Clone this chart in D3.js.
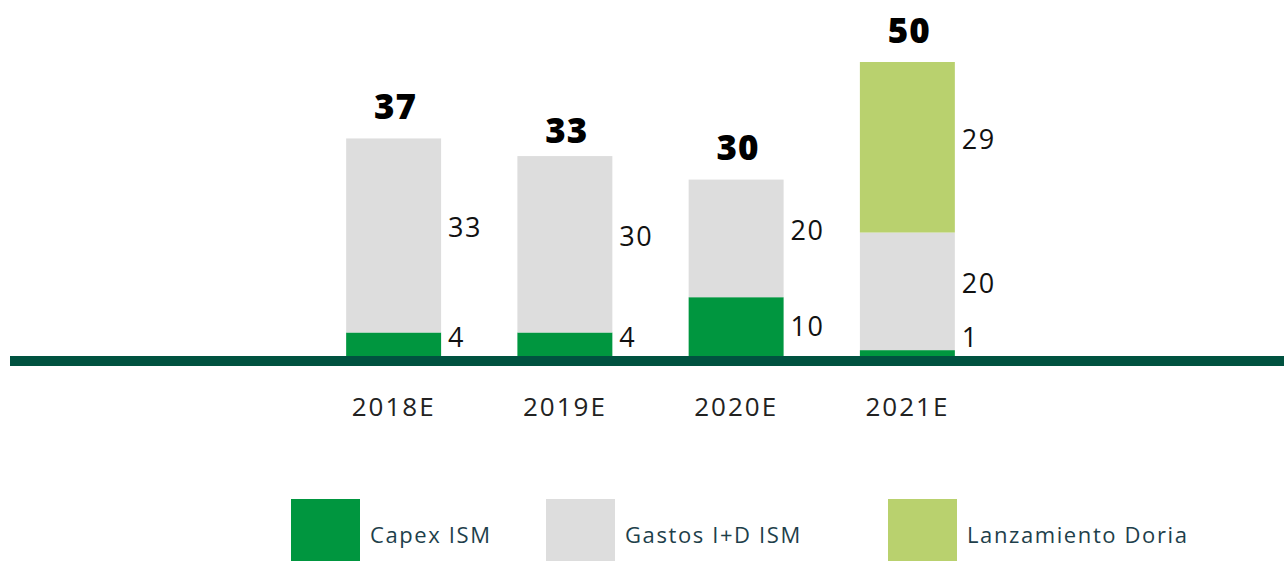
<!DOCTYPE html>
<html><head><meta charset="utf-8">
<script src="https://cdn.jsdelivr.net/npm/d3@7"></script>
<style>
html,body{margin:0;padding:0;background:#fff;}
svg{display:block;}
text{font-family:"Open Sans",Lato,sans-serif;}
</style></head>
<body>
<svg id="chart" width="1284" height="561"></svg>
<script>
const categories = ["2018E","2019E","2020E","2021E"];
const seriesNames = ["Capex ISM","Gastos I+D ISM","Lanzamiento Doria"];
const capex = [4,4,10,1];
const gastos = [33,30,20,20];
const doria = [0,0,0,29];
const totals = [37,33,30,50];
const colors = ["#00963F","#DDDDDD","#B9D16E"];

const svg = d3.select("#chart");
const x = d3.scaleBand().domain(categories).range([308,993]).paddingInner(0.4455).paddingOuter(0.2228);
const y = d3.scaleLinear().domain([0,50]).range([356,62]);

const rows = categories.map((c,i)=>({cat:c, "Capex ISM":capex[i], "Gastos I+D ISM":gastos[i], "Lanzamiento Doria":doria[i]}));
const stacked = d3.stack().keys(seriesNames)(rows);

const g = svg.append("g");
stacked.forEach((s,si)=>{
  g.selectAll(null).data(s.filter(d=>d[1]-d[0]>0)).enter().append("rect")
    .attr("x",d=>x(d.data.cat)).attr("width",x.bandwidth())
    .attr("y",d=>y(d[1])).attr("height",d=>y(d[0])-y(d[1]))
    .attr("fill",colors[si]);
  g.selectAll(null).data(s.filter(d=>d[1]-d[0]>0)).enter().append("text")
    .attr("x",d=>x(d.data.cat)+x.bandwidth()+7)
    .attr("y",d=>{ let m=y((d[0]+d[1])/2); if(si===0) m=Math.min(m,y(0)-19); else m-=8; return m; })
    .attr("dy","0.36em")
    .attr("font-size",27).attr("letter-spacing",1.5).attr("fill","#111")
    .text(d=>d[1]-d[0]);
});

// totals
g.selectAll(null).data(categories).enter().append("text")
  .attr("x",d=>x(d)+x.bandwidth()/2+2)
  .attr("y",(d,i)=>y(totals[i])-32)
  .attr("dy","0.36em")
  .attr("text-anchor","middle")
  .attr("font-family","Lato, 'Open Sans', sans-serif")
  .attr("font-weight",900).attr("font-size",35).attr("letter-spacing",1).attr("fill","#000")
  .text((d,i)=>totals[i]);

// baseline
svg.append("rect").attr("x",10).attr("width",1274).attr("y",y(0)).attr("height",10).attr("fill","#005240");

// x axis labels
const xAxis = d3.axisBottom(x).tickSize(0).tickPadding(0);
const ax = svg.append("g").attr("transform",`translate(0,${y(0)+10})`).call(xAxis);
ax.select(".domain").remove();
ax.selectAll("text").attr("y",41).attr("dy","0.36em")
  .attr("font-family","'Open Sans',sans-serif").attr("font-size",26).attr("letter-spacing",2).attr("fill","#222");

// legend
const legX = [291,546,888];
const leg = svg.append("g");
seriesNames.forEach((n,i)=>{
  leg.append("rect").attr("x",legX[i]).attr("y",499).attr("width",69).attr("height",62).attr("fill",colors[i]);
  leg.append("text").attr("x",legX[i]+79).attr("y",535).attr("dy","0.36em")
    .attr("font-size",22).attr("letter-spacing",1.6).attr("fill","#1E3F4B").text(n);
});
</script>
</body></html>
